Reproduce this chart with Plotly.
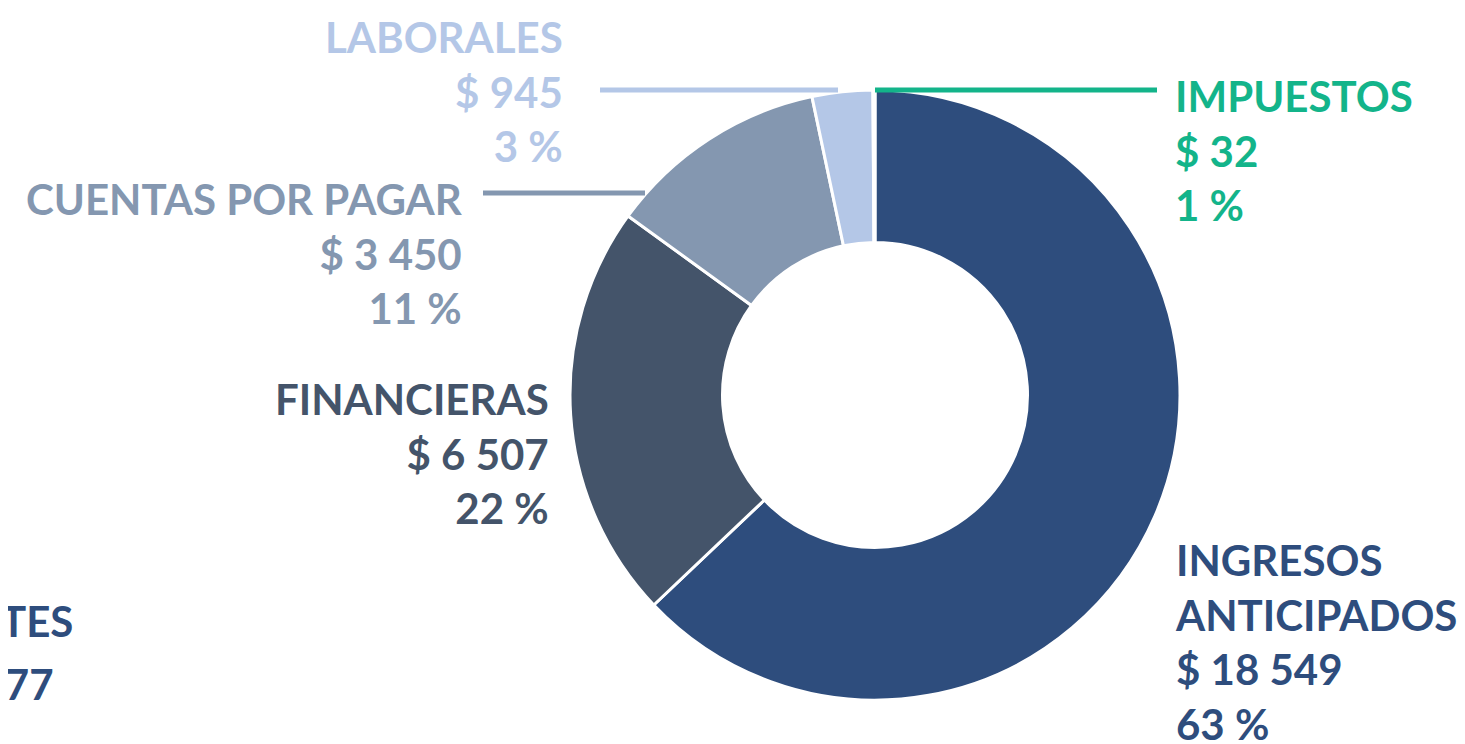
# %%
import plotly.graph_objects as go

W, H = 1465, 744
OFF = 8  # page body margin around the plot div

# %%
categories = ["INGRESOS<br>ANTICIPADOS", "FINANCIERAS", "CUENTAS POR PAGAR", "LABORALES", "IMPUESTOS"]
values = [18549, 6507, 3450, 945, 32]
pct_labels = [63, 22, 11, 3, 1]
colors = ["#2E4D7D", "#44546A", "#8497B0", "#B4C7E7", "#13B48A"]

# label that is cut off at the left edge of the picture
extra_label = "PASIVOS CORRIENTES"
extra_value = 29477


def money(v):
    return "$ " + f"{v:,}".replace(",", " ")


def px_x(x):
    return (x - OFF) / W


def px_y(y):
    return 1 - (y - OFF) / H


# %%
cx, cy, r = 875, 395, 305

fig = go.Figure(
    go.Pie(
        labels=categories,
        values=values,
        hole=0.5,
        sort=False,
        direction="clockwise",
        rotation=0,
        textinfo="none",
        marker=dict(colors=colors, line=dict(color="white", width=3)),
        domain=dict(x=[px_x(cx - r), px_x(cx + r)], y=[px_y(cy + r), px_y(cy - r)]),
    )
)

# label placement: (x, y centre, anchor) in pixels
label_pos = [
    (1173, 642, "left"),
    (551, 453, "right"),
    (465, 253, "right"),
    (565, 91, "right"),
    (1173, 150, "left"),
]

font = dict(family="Lato", size=42, weight="bold")

for cat, v, p, c, (x, y, anchor) in zip(categories, values, pct_labels, colors, label_pos):
    fig.add_annotation(
        x=px_x(x),
        y=px_y(y),
        xref="paper",
        yref="paper",
        xanchor=anchor,
        yanchor="middle",
        align=anchor,
        showarrow=False,
        text=f"{cat}<br>{money(v)}<br>{p} %",
        font=dict(font, color=c),
    )

# this label sits partly outside the picture, as in the reference
fig.add_annotation(
    x=px_x(75), y=px_y(621), xref="paper", yref="paper",
    xanchor="right", yanchor="middle", showarrow=False,
    text=extra_label, font=dict(font, color=colors[0]),
)
fig.add_annotation(
    x=px_x(56), y=px_y(684), xref="paper", yref="paper",
    xanchor="right", yanchor="middle", showarrow=False,
    text=money(extra_value), font=dict(font, color=colors[0]),
)

# leader lines
leaders = [
    (875, 90, 1157, 90, colors[4]),
    (600, 90, 838, 90, colors[3]),
    (483, 193, 645, 193, colors[2]),
]
for x0, y0, x1, y1, c in leaders:
    fig.add_shape(
        type="line",
        xref="paper",
        yref="paper",
        x0=px_x(x0),
        y0=px_y(y0),
        x1=px_x(x1),
        y1=px_y(y1),
        line=dict(color=c, width=5),
    )

fig.update_layout(
    width=W,
    height=H,
    margin=dict(l=0, r=0, t=0, b=0),
    showlegend=False,
    paper_bgcolor="white",
    plot_bgcolor="white",
)

fig.write_html("out.html")
